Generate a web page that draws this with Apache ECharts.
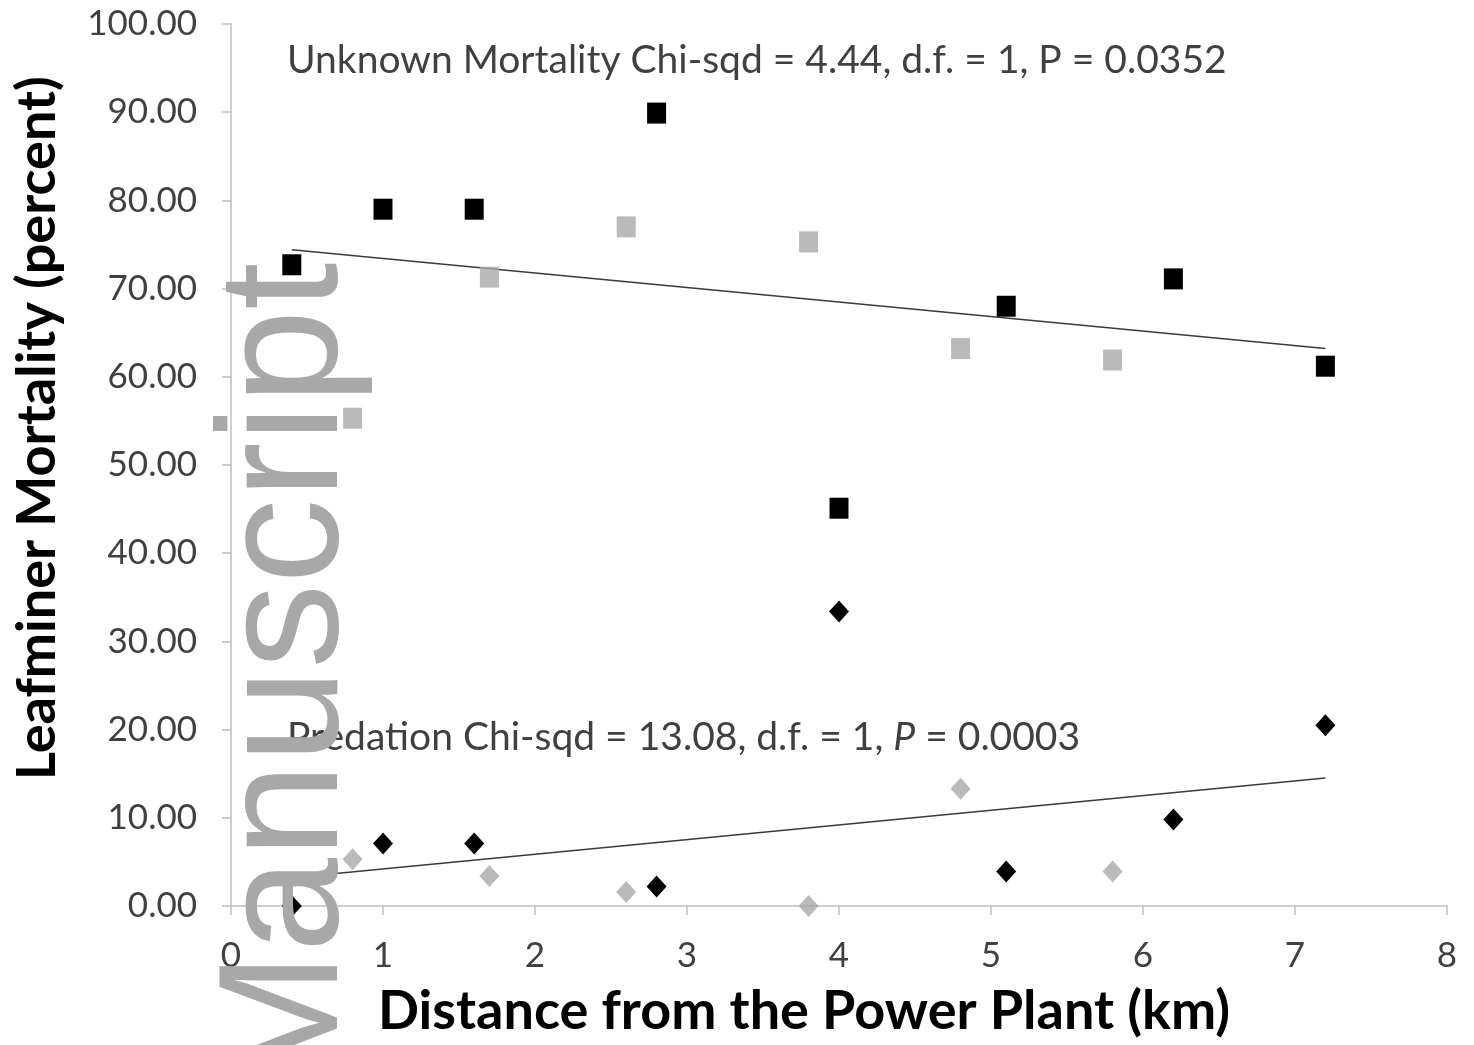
<!DOCTYPE html>
<html>
<head>
<meta charset="utf-8">
<script src="https://cdn.jsdelivr.net/npm/echarts@6/dist/echarts.min.js"></script>
<style>
html,body{margin:0;padding:0;background:#fff;}
#chart{width:1474px;height:1045px;}
</style>
</head>
<body>
<div id="chart"></div>
<script>
// ---- data ----
const xTicks = [0, 1, 2, 3, 4, 5, 6, 7, 8];
const yTicks = [0, 10, 20, 30, 40, 50, 60, 70, 80, 90, 100];

const xBlack = [0.4, 1.0, 1.6, 2.8, 4.0, 5.1, 6.2, 7.2];
const unknownBlack = [72.7, 79.0, 79.0, 89.9, 45.1, 68.0, 71.1, 61.2];
const predationBlack = [0.0, 7.1, 7.1, 2.2, 33.4, 3.9, 9.8, 20.5];

const xGrey = [0.8, 1.7, 2.6, 3.8, 4.8, 5.8];
const unknownGrey = [55.3, 71.3, 77.0, 75.3, 63.2, 61.9];
const predationGrey = [5.3, 3.4, 1.6, 0.0, 13.3, 3.9];

const xTrend = [0.4, 7.2];
const unknownTrend = [74.4, 63.2];
const predationTrend = [3.2, 14.5];

const labelUnknown = 'Unknown Mortality Chi-sqd = 4.44, d.f. = 1, P = 0.0352';
const labelPredA = 'Predation Chi-sqd = 13.08, d.f. = 1, ';
const labelPredB = 'P';
const labelPredC = ' = 0.0003';
const xTitle = 'Distance from the Power Plant (km)';
const yTitle = 'Leafminer Mortality (percent)';
const watermark = 'Manuscript';

const pairs = (xs, ys) => xs.map((x, i) => [x, ys[i]]);

const chart = echarts.init(document.getElementById('chart'), null, {renderer: 'canvas'});
const FONT = 'Lato';
const option = {
  backgroundColor: '#ffffff',
  animation: false,
  grid: {left: 231, right: 27, top: 24, bottom: 139, containLabel: false},
  xAxis: {
    type: 'value', min: 0, max: 8, interval: 1,
    axisLine: {show: true, onZero: false, lineStyle: {color: '#bfbfbf', width: 1.5}},
    axisTick: {show: true, length: 9, lineStyle: {color: '#bfbfbf', width: 1.5}},
    splitLine: {show: false},
    axisLabel: {
      margin: 32, color: '#404040', fontFamily: FONT, fontSize: 35,
      formatter: v => String(v)
    }
  },
  yAxis: {
    type: 'value', min: 0, max: 100, interval: 10,
    axisLine: {show: true, lineStyle: {color: '#bfbfbf', width: 1.5}},
    axisTick: {show: true, length: 9, lineStyle: {color: '#bfbfbf', width: 1.5}},
    splitLine: {show: false},
    axisLabel: {
      margin: 34, color: '#404040', fontFamily: FONT, fontSize: 35,
      formatter: v => v.toFixed(2)
    }
  },
  series: [
    {name: 'Unknown trend', type: 'line', data: pairs(xTrend, unknownTrend), showSymbol: false,
     symbol: 'none', lineStyle: {color: '#3a3a3a', width: 1.5}, z: 1},
    {name: 'Predation trend', type: 'line', data: pairs(xTrend, predationTrend), showSymbol: false,
     symbol: 'none', lineStyle: {color: '#3a3a3a', width: 1.5}, z: 1},
    {name: 'Unknown (grey)', type: 'scatter', symbol: 'rect', symbolSize: [19, 21],
     itemStyle: {color: '#a9a9a9'}, data: pairs(xGrey, unknownGrey), z: 2},
    {name: 'Predation (grey)', type: 'scatter', symbol: 'diamond', symbolSize: [20, 22],
     itemStyle: {color: '#a9a9a9'}, data: pairs(xGrey, predationGrey), z: 2},
    {name: 'Unknown (black)', type: 'scatter', symbol: 'rect', symbolSize: [19, 21],
     itemStyle: {color: '#000000', opacity: 1}, data: pairs(xBlack, unknownBlack), z: 3},
    {name: 'Predation (black)', type: 'scatter', symbol: 'diamond', symbolSize: [20, 22],
     itemStyle: {color: '#000000', opacity: 1}, data: pairs(xBlack, predationBlack), z: 3}
  ],
  graphic: [
    {type: 'text', x: 287, y: 60, z: 10,
     style: {text: labelUnknown, fill: '#404040', font: '39px ' + FONT, align: 'left', verticalAlign: 'middle'}},
    {type: 'text', x: 287, y: 737, z: 10,
     style: {
       text: '{n|' + labelPredA + '}{i|' + labelPredB + '}{n|' + labelPredC + '}',
       align: 'left', verticalAlign: 'middle',
       rich: {
         n: {fill: '#404040', fontFamily: FONT, fontSize: 39},
         i: {fill: '#404040', fontFamily: FONT, fontSize: 39, fontStyle: 'italic'}
       }
     }},
    {type: 'text', x: 804, y: 1012, z: 10,
     style: {text: xTitle, fill: '#000', font: 'bold 54px ' + FONT, align: 'center', verticalAlign: 'middle'}},
    {type: 'text', x: 38, y: 428, rotation: Math.PI / 2, z: 10,
     style: {text: yTitle, fill: '#000', font: 'bold 54px ' + FONT, align: 'center', verticalAlign: 'middle'}},
    {type: 'text', x: 290, y: 1094, rotation: Math.PI / 2, z: 100,
     style: {text: watermark, fill: '#a8a8a8', font: '170px "Liberation Sans"', align: 'left', verticalAlign: 'middle'}}
  ]
};
chart.setOption(option);
</script>
</body>
</html>
